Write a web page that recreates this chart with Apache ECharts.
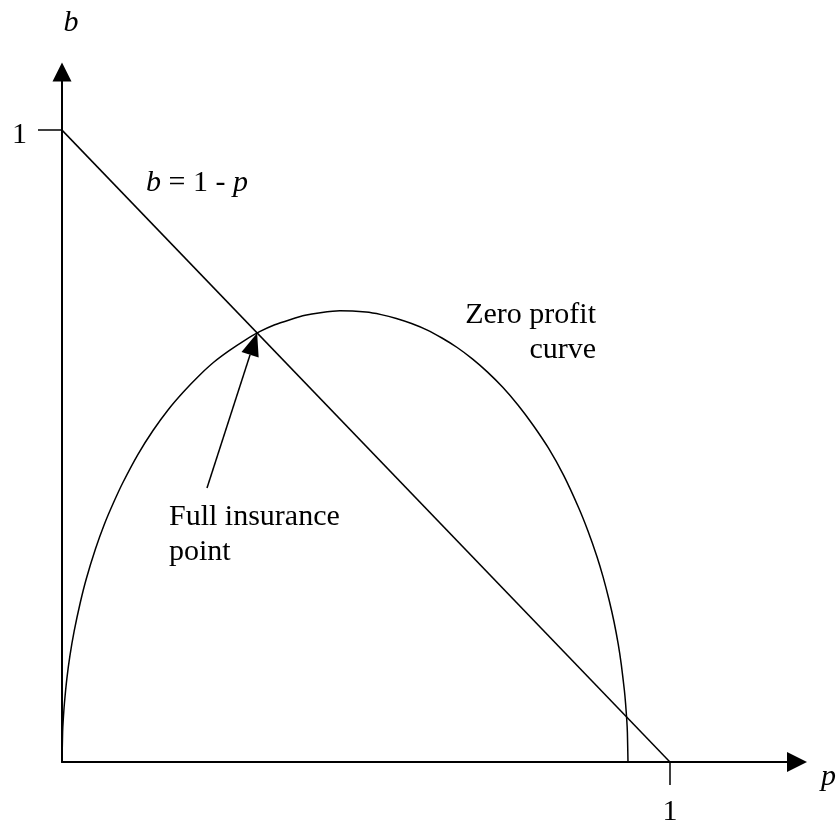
<!DOCTYPE html>
<html>
<head>
<meta charset="utf-8">
<script src="https://cdn.jsdelivr.net/npm/echarts@6/dist/echarts.min.js"></script>
<style>
  html, body { margin: 0; padding: 0; background: #fff; }
  #main { width: 840px; height: 827px; }
</style>
</head>
<body>
<div id="main"></div>
<script>
// budget line b = 1 - p
var lineP = [0, 1];
var lineB = [1, 0];

// zero profit curve
var curveP = [0, 0.001, 0.002, 0.004, 0.008, 0.013, 0.02, 0.03, 0.04, 0.055, 0.07, 0.085, 0.1, 0.125,
              0.15, 0.175, 0.2, 0.225, 0.25, 0.275, 0.3, 0.325, 0.35, 0.375, 0.4, 0.425, 0.457,
              0.5, 0.525, 0.55, 0.575, 0.6, 0.625, 0.65, 0.675, 0.7, 0.725, 0.75, 0.775, 0.8,
              0.825, 0.85, 0.865, 0.88, 0.89, 0.9, 0.908, 0.915, 0.92, 0.925, 0.927, 0.929, 0.93, 0.931];
var curveB = [0, 0.047, 0.066, 0.093, 0.132, 0.168, 0.207, 0.252, 0.290, 0.337, 0.377, 0.411, 0.442, 0.487,
              0.525, 0.558, 0.586, 0.611, 0.633, 0.651, 0.667, 0.681, 0.692, 0.700, 0.707, 0.711, 0.714,
              0.712, 0.708, 0.702, 0.694, 0.684, 0.671, 0.656, 0.638, 0.617, 0.593, 0.565, 0.533, 0.497,
              0.454, 0.402, 0.366, 0.325, 0.293, 0.256, 0.222, 0.186, 0.154, 0.114, 0.093, 0.066, 0.047, 0];

// tick labels
var xTicks = [1];
var yTicks = [1];

// arrow for "Full insurance point": tail under the label, tip on the crossing
var arrowTail = [0.2385, 0.4335];
var arrowTip = [0.321, 0.679];

var serif = '"Liberation Serif", "Times New Roman", serif';

function zip(a, b) {
  return a.map(function (v, i) { return [v, b[i]]; });
}

var myChart = echarts.init(document.getElementById('main'));

var option = {
  animation: false,
  backgroundColor: '#fff',
  grid: { left: 62, right: 43, top: 72, bottom: 65 },
  xAxis: {
    type: 'value',
    min: 0,
    max: 1.209,
    name: 'p',
    nameLocation: 'end',
    nameGap: 24,
    nameTextStyle: { fontFamily: serif, fontSize: 30, fontStyle: 'italic', color: '#000', verticalAlign: 'top' },
    splitLine: { show: false },
    axisLine: { onZero: false, symbol: ['none', 'triangle'], symbolSize: [20, 20], lineStyle: { color: '#000', width: 2 } },
    axisTick: { show: true, customValues: xTicks, length: 23, lineStyle: { color: '#000', width: 1.5 } },
    axisLabel: { customValues: xTicks, margin: 35, fontFamily: serif, fontSize: 30, color: '#000' }
  },
  yAxis: {
    type: 'value',
    min: 0,
    max: 1.092,
    name: 'b',
    nameLocation: 'end',
    nameGap: 34,
    nameTextStyle: { fontFamily: serif, fontSize: 30, fontStyle: 'italic', color: '#000', padding: [0, 0, 0, 18] },
    splitLine: { show: false },
    axisLine: { onZero: false, symbol: ['none', 'triangle'], symbolSize: [19, 19], lineStyle: { color: '#000', width: 2 } },
    axisTick: { show: true, customValues: yTicks, length: 24, lineStyle: { color: '#000', width: 1.5 } },
    axisLabel: { customValues: yTicks, margin: 35, fontFamily: serif, fontSize: 30, color: '#000', verticalAlign: 'top', padding: [-10, 0, 0, 0] }
  },
  series: [
    {
      name: 'b = 1 - p',
      type: 'line',
      data: zip(lineP, lineB),
      showSymbol: false,
      lineStyle: { color: '#000', width: 1.5 }
    },
    {
      name: 'Zero profit curve',
      type: 'line',
      data: zip(curveP, curveB),
      showSymbol: false,
      smooth: 0.2,
      lineStyle: { color: '#000', width: 1.5 }
    }
  ],
  graphic: [
    {
      type: 'text', left: 146, top: 168,
      style: {
        text: '{i|b} = 1 - {i|p}',
        font: '30px ' + serif, fill: '#000',
        rich: { i: { fontStyle: 'italic', fontFamily: serif, fontSize: 30 } }
      }
    },
    {
      type: 'text', x: 596, y: 298,
      style: {
        text: 'Zero profit\ncurve', align: 'right', verticalAlign: 'top', lineHeight: 35,
        font: '30px ' + serif, fill: '#000'
      }
    },
    {
      type: 'text', x: 169, y: 500,
      style: {
        text: 'Full insurance\npoint', align: 'left', verticalAlign: 'top', lineHeight: 35,
        font: '30px ' + serif, fill: '#000'
      }
    }
  ]
};

myChart.setOption(option);

// arrow drawn from the data points through the chart's own scales
var tail = myChart.convertToPixel({ gridIndex: 0 }, arrowTail);
var tip = myChart.convertToPixel({ gridIndex: 0 }, arrowTip);
var dx = tip[0] - tail[0], dy = tip[1] - tail[1];
var len = Math.sqrt(dx * dx + dy * dy);
var ux = dx / len, uy = dy / len;
var headLen = 23, headHalf = 9;
var base = [tip[0] - ux * headLen, tip[1] - uy * headLen];

myChart.setOption({
  graphic: option.graphic.concat([
    {
      type: 'line',
      shape: { x1: tail[0], y1: tail[1], x2: base[0], y2: base[1] },
      style: { stroke: '#000', lineWidth: 1.5 }
    },
    {
      type: 'polygon',
      shape: { points: [tip, [base[0] - uy * headHalf, base[1] + ux * headHalf], [base[0] + uy * headHalf, base[1] - ux * headHalf]] },
      style: { fill: '#000' }
    }
  ])
});
</script>
</body>
</html>
